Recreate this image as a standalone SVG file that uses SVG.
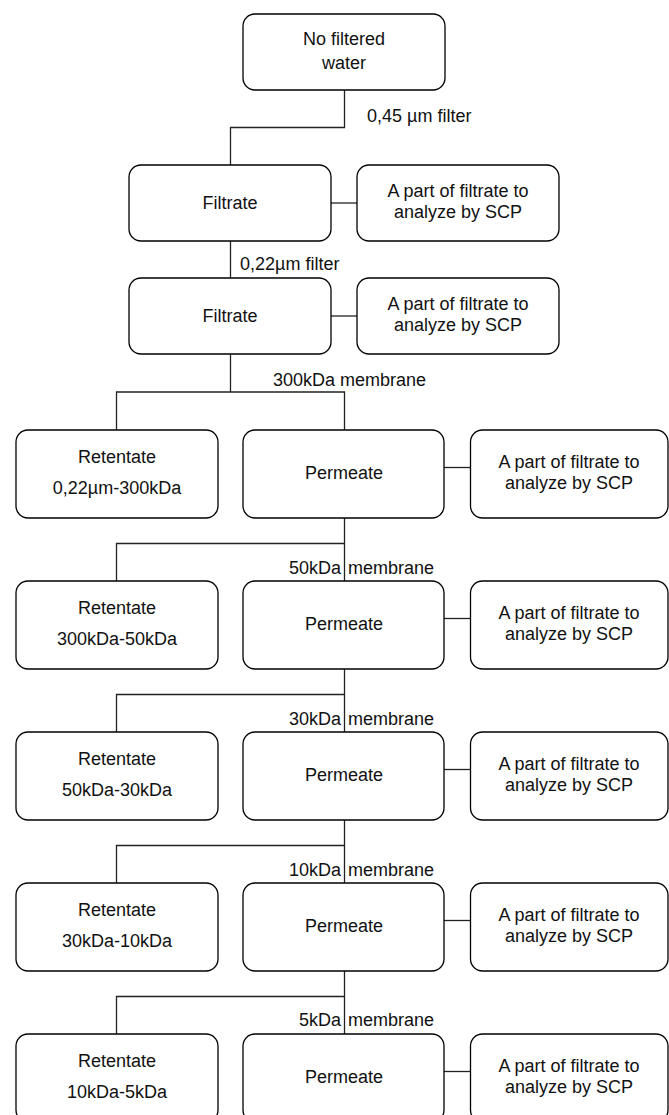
<svg xmlns="http://www.w3.org/2000/svg" width="669" height="1115" viewBox="0 0 669 1115">
<style>
.box{fill:#fff;stroke:#000;stroke-width:1.3}
.ln{fill:none;stroke:#222;stroke-width:1.3}
text{font-family:"Liberation Sans",Arial,sans-serif;font-size:18px;fill:#111}
.c{text-anchor:middle}
</style>
<rect width="669" height="1115" fill="#fff"/>
<g id="connectors">
<path class="ln" d="M344.5 90V127.5H230.5V165"/>
<path class="ln" d="M331 203H357"/>
<path class="ln" d="M230.5 241V278"/>
<path class="ln" d="M331 316H357"/>
<path class="ln" d="M230.5 354V392H344.5V430M230.5 392H116.5V430"/>
<path class="ln" d="M444 467.5H470.5"/>
<path class="ln" d="M344.5 517.5V581M344.5 543.5H116.5V581"/>
<path class="ln" d="M444 618.5H470.5"/>
<path class="ln" d="M344.5 668.5V732M344.5 694.5H116.5V732"/>
<path class="ln" d="M444 769.5H470.5"/>
<path class="ln" d="M344.5 819.5V883M344.5 845.5H116.5V883"/>
<path class="ln" d="M444 920.5H470.5"/>
<path class="ln" d="M344.5 970.5V1034M344.5 996.5H116.5V1034"/>
<path class="ln" d="M444 1071.5H470.5"/>
<text x="367" y="122">0,45 µm filter</text>
<text x="240" y="270">0,22µm filter</text>
<text x="273" y="386">300kDa membrane</text>
<text y="574"><tspan x="341" text-anchor="end">50kDa</tspan><tspan x="348">membrane</tspan></text>
<text y="725"><tspan x="341" text-anchor="end">30kDa</tspan><tspan x="348">membrane</tspan></text>
<text y="876"><tspan x="341" text-anchor="end">10kDa</tspan><tspan x="348">membrane</tspan></text>
<text y="1026"><tspan x="341" text-anchor="end">5kDa</tspan><tspan x="348">membrane</tspan></text>
</g>
<g id="water"><rect class="box" x="243" y="14" width="202" height="76" rx="12"/><text class="c" x="344" y="45">No filtered</text><text class="c" x="344" y="69">water</text></g>
<g id="filtrate1"><rect class="box" x="129" y="165" width="202" height="76" rx="12"/><text class="c" x="230" y="209">Filtrate</text></g>
<g id="scp1"><rect class="box" x="357" y="165" width="202" height="76" rx="12"/><text class="c" x="458" y="197">A part of filtrate to</text><text class="c" x="458" y="218">analyze by SCP</text></g>
<g id="filtrate2"><rect class="box" x="129" y="278" width="202" height="76" rx="12"/><text class="c" x="230" y="322">Filtrate</text></g>
<g id="scp2"><rect class="box" x="357" y="278" width="202" height="76" rx="12"/><text class="c" x="458" y="310">A part of filtrate to</text><text class="c" x="458" y="331">analyze by SCP</text></g>

<g id="ret1"><rect class="box" x="16" y="430" width="202" height="88" rx="12"/><text class="c" x="117" y="463">Retentate</text><text class="c" x="117" y="494">0,22µm-300kDa</text></g>
<g id="perm1"><rect class="box" x="243" y="430" width="201" height="88" rx="12"/><text class="c" x="344" y="479">Permeate</text></g>
<g id="scp3"><rect class="box" x="470.5" y="430" width="197.5" height="88" rx="12"/><text class="c" x="569" y="468">A part of filtrate to</text><text class="c" x="569" y="489">analyze by SCP</text></g>

<g id="ret2"><rect class="box" x="16" y="581" width="202" height="88" rx="12"/><text class="c" x="117" y="614">Retentate</text><text class="c" x="117" y="645">300kDa-50kDa</text></g>
<g id="perm2"><rect class="box" x="243" y="581" width="201" height="88" rx="12"/><text class="c" x="344" y="630">Permeate</text></g>
<g id="scp4"><rect class="box" x="470.5" y="581" width="197.5" height="88" rx="12"/><text class="c" x="569" y="619">A part of filtrate to</text><text class="c" x="569" y="640">analyze by SCP</text></g>

<g id="ret3"><rect class="box" x="16" y="732" width="202" height="88" rx="12"/><text class="c" x="117" y="765">Retentate</text><text class="c" x="117" y="796">50kDa-30kDa</text></g>
<g id="perm3"><rect class="box" x="243" y="732" width="201" height="88" rx="12"/><text class="c" x="344" y="781">Permeate</text></g>
<g id="scp5"><rect class="box" x="470.5" y="732" width="197.5" height="88" rx="12"/><text class="c" x="569" y="770">A part of filtrate to</text><text class="c" x="569" y="791">analyze by SCP</text></g>

<g id="ret4"><rect class="box" x="16" y="883" width="202" height="88" rx="12"/><text class="c" x="117" y="916">Retentate</text><text class="c" x="117" y="947">30kDa-10kDa</text></g>
<g id="perm4"><rect class="box" x="243" y="883" width="201" height="88" rx="12"/><text class="c" x="344" y="932">Permeate</text></g>
<g id="scp6"><rect class="box" x="470.5" y="883" width="197.5" height="88" rx="12"/><text class="c" x="569" y="921">A part of filtrate to</text><text class="c" x="569" y="942">analyze by SCP</text></g>

<g id="ret5"><rect class="box" x="16" y="1034" width="202" height="88" rx="12"/><text class="c" x="117" y="1067">Retentate</text><text class="c" x="117" y="1098">10kDa-5kDa</text></g>
<g id="perm5"><rect class="box" x="243" y="1034" width="201" height="88" rx="12"/><text class="c" x="344" y="1083">Permeate</text></g>
<g id="scp7"><rect class="box" x="470.5" y="1034" width="197.5" height="88" rx="12"/><text class="c" x="569" y="1072">A part of filtrate to</text><text class="c" x="569" y="1093">analyze by SCP</text></g>
</svg>
